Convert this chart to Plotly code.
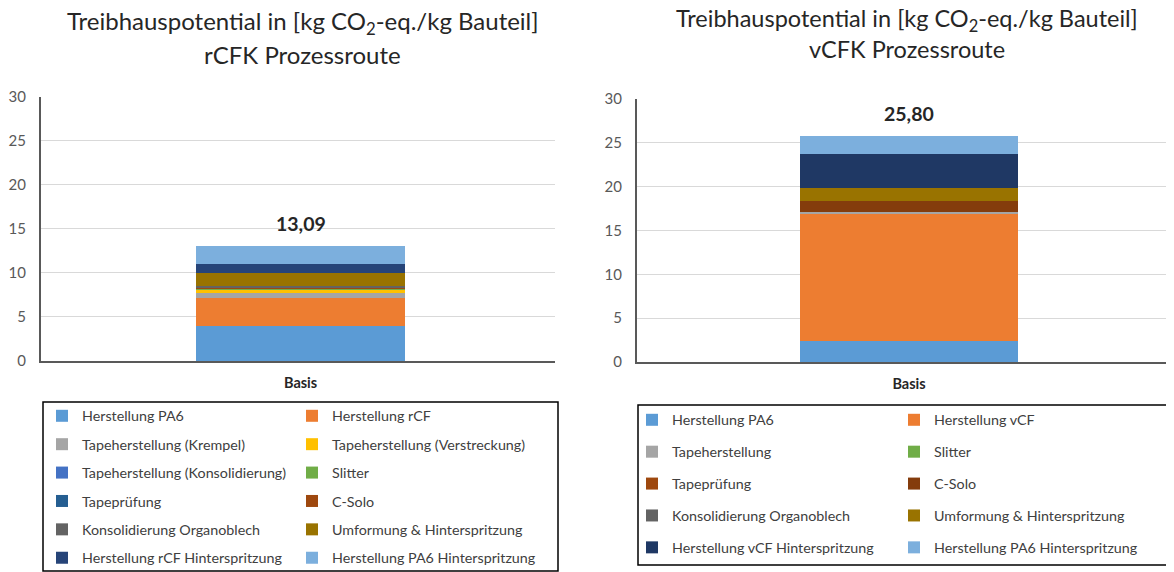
import plotly.graph_objects as go

W, H = 1174, 572
PAGE_OFFSET = 8  # the page body margin shifts the figure by 8 px

categories = ["Basis"]

left_title = "Treibhauspotential in [kg CO<sub>2</sub>-eq./kg Bauteil]"
left_subtitle = "rCFK Prozessroute"
right_subtitle = "vCFK Prozessroute"

left_labels = [
    "Herstellung PA6", "Herstellung rCF",
    "Tapeherstellung (Krempel)", "Tapeherstellung (Verstreckung)",
    "Tapeherstellung (Konsolidierung)", "Slitter",
    "Tapeprüfung", "C-Solo",
    "Konsolidierung Organoblech", "Umformung & Hinterspritzung",
    "Herstellung rCF Hinterspritzung", "Herstellung PA6 Hinterspritzung",
]
left_values = [3.98, 3.22, 0.49, 0.49, 0.03, 0.02, 0.02, 0.17, 0.05, 1.55, 1.00, 2.07]
left_colors = ["#5B9BD5", "#ED7D31", "#A5A5A5", "#FFC000", "#4472C4", "#70AD47",
               "#255E91", "#9E480E", "#636363", "#997300", "#264478", "#7CAFDD"]

right_labels = [
    "Herstellung PA6", "Herstellung vCF",
    "Tapeherstellung", "Slitter",
    "Tapeprüfung", "C-Solo",
    "Konsolidierung Organoblech", "Umformung & Hinterspritzung",
    "Herstellung vCF Hinterspritzung", "Herstellung PA6 Hinterspritzung",
]
right_values = [2.36, 14.56, 0.19, 0.02, 0.02, 1.22, 0.01, 1.44, 3.88, 2.10]
right_colors = ["#5B9BD5", "#ED7D31", "#A5A5A5", "#70AD47", "#9E480E", "#843C0C",
                "#636363", "#997300", "#1F3864", "#7CAFDD"]

y_ticks = [0, 5, 10, 15, 20, 25, 30]

FONT = "Lato, 'Open Sans', sans-serif"


def px(x):
    return (x - PAGE_OFFSET) / W


def py(y):
    return 1 - (y - PAGE_OFFSET) / H


fig = go.Figure()

for i, (lab, val, col) in enumerate(zip(left_labels, left_values, left_colors)):
    fig.add_trace(go.Bar(
        x=categories, y=[val], name=lab, marker=dict(color=col, line=dict(width=0)),
        width=0.407, xaxis="x", yaxis="y",
        legend="legend" if i % 2 == 0 else "legend2", legendgroup=f"L{i}",
        hoverinfo="name+y",
    ))

for i, (lab, val, col) in enumerate(zip(right_labels, right_values, right_colors)):
    fig.add_trace(go.Bar(
        x=categories, y=[val], name=lab, marker=dict(color=col, line=dict(width=0)),
        width=0.406, xaxis="x2", yaxis="y2",
        legend="legend3" if i % 2 == 0 else "legend4", legendgroup=f"R{i}",
        hoverinfo="name+y",
    ))

axis_common_y = dict(
    range=[0, 30], tickvals=y_ticks, showgrid=True, gridcolor="#D9D9D9", gridwidth=1,
    showline=True, linecolor="#595959", linewidth=2, zeroline=False,
    tickfont=dict(size=15, color="#595959", family=FONT), ticks="", ticklabelstandoff=10,
    automargin=False,
)
axis_common_x = dict(
    showline=True, linecolor="#595959", linewidth=2, showgrid=False, zeroline=False,
    tickfont=dict(size=14.5, color="#262626", family=FONT),
    tickvals=categories, ticktext=[f"<b>{c}</b>" for c in categories], ticks="",
    ticklabelstandoff=8, automargin=False,
)

left_total = sum(left_values)
right_total = sum(right_values)


def fmt(v):
    return f"{v:.2f}".replace(".", ",")


legend_common = dict(
    xanchor="left", yanchor="top", bgcolor="rgba(0,0,0,0)", borderwidth=0,
    font=dict(size=14.3, color="#404040", family=FONT), traceorder="grouped",
    orientation="v",
)

title_font = dict(size=24, color="#262626", family=FONT)
title_font_r = dict(size=23.5, color="#262626", family=FONT)

fig.update_layout(
    width=W, height=H, barmode="stack",
    paper_bgcolor="white", plot_bgcolor="white",
    margin=dict(l=0, r=0, t=0, b=0, autoexpand=False),
    font=dict(family=FONT),
    xaxis=dict(domain=[px(41), px(555)], anchor="y", range=[-0.505, 0.495], **axis_common_x),
    yaxis=dict(domain=[py(361), py(96.5)], anchor="x", **axis_common_y),
    xaxis2=dict(domain=[px(637), px(1174)], anchor="y2", range=[-0.5065, 0.4935], **axis_common_x),
    yaxis2=dict(domain=[py(362), py(99)], anchor="x2", **axis_common_y),
    legend=dict(x=px(42), y=py(400), tracegroupgap=6.8, **legend_common),
    legend2=dict(x=px(292), y=py(400), tracegroupgap=6.8, **legend_common),
    legend3=dict(x=px(632), y=py(404), tracegroupgap=10.3, **legend_common),
    legend4=dict(x=px(894), y=py(404), tracegroupgap=10.3, **legend_common),
    showlegend=True,
    shapes=[
        dict(type="rect", xref="paper", yref="paper", x0=px(43), x1=px(558),
             y0=py(571), y1=py(402), line=dict(color="black", width=1.5)),
        dict(type="rect", xref="paper", yref="paper", x0=px(638), x1=px(1172),
             y0=py(565), y1=py(405), line=dict(color="black", width=1.5)),
    ],
    annotations=[
        dict(text=left_title, x=px(303), y=py(22), xref="paper", yref="paper",
             xanchor="center", yanchor="middle", showarrow=False, font=title_font),
        dict(text=left_subtitle, x=px(303), y=py(54), xref="paper", yref="paper",
             xanchor="center", yanchor="middle", showarrow=False, font=title_font),
        dict(text=left_title, x=px(907), y=py(19.5), xref="paper", yref="paper",
             xanchor="center", yanchor="middle", showarrow=False, font=title_font_r),
        dict(text=right_subtitle, x=px(907), y=py(48.5), xref="paper", yref="paper",
             xanchor="center", yanchor="middle", showarrow=False, font=title_font_r),
        dict(text=f"<b>{fmt(left_total)}</b>", x=categories[0], y=left_total, xref="x", yref="y",
             xanchor="center", showarrow=False, yanchor="bottom", yshift=9,
             font=dict(size=19.5, color="#262626", family=FONT)),
        dict(text=f"<b>{fmt(right_total)}</b>", x=categories[0], y=right_total, xref="x2", yref="y2",
             xanchor="center", showarrow=False, yanchor="bottom", yshift=9,
             font=dict(size=19.5, color="#262626", family=FONT)),
    ],
)

fig.write_html("out.html")
